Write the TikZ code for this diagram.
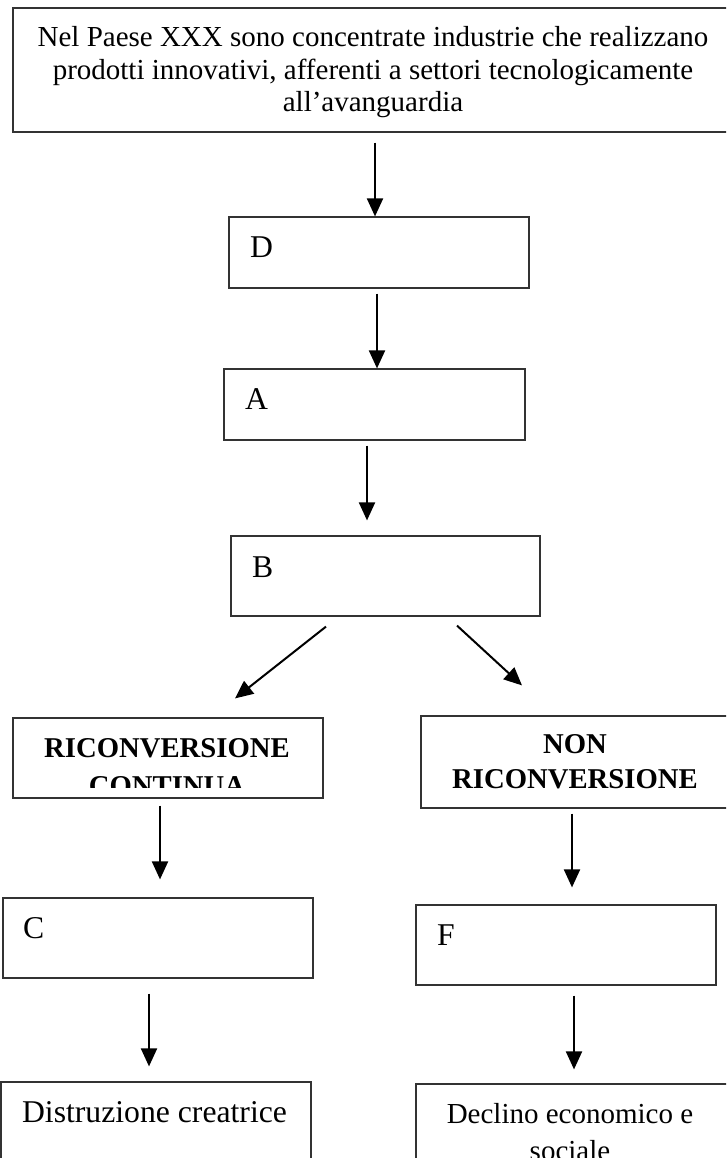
\documentclass[tikz,border=0pt]{standalone}
\usepackage{fontspec}
\setmainfont{Liberation Serif}
\usetikzlibrary{arrows.meta,calc}
\tikzset{
  box/.style={draw=black!80, line width=1.2pt, rectangle, inner sep=0pt},
  arr/.style={line width=2pt, -{Triangle[length=18pt,width=16pt]}},
  lbl/.style={inner sep=0pt, font=\fontsize{31.7}{36}\selectfont},
  body/.style={inner sep=0pt, align=center, font=\fontsize{29}{32.5}\selectfont},
  head/.style={inner sep=0pt, align=center, font=\fontsize{28.7}{35}\selectfont\bfseries},
}
\begin{document}
\begin{tikzpicture}[x=1pt,y=-1pt]
\useasboundingbox (0,0) rectangle (726,1158);
\fill[white] (0,0) rectangle (726,1158);
\clip (0,0) rectangle (726,1158);

% boxes
\node[box, minimum width=720pt, minimum height=124pt] (T) at (373,70) {};
\node[box, minimum width=300pt, minimum height=71pt] (D) at (379,252.5) {};
\node[box, minimum width=301pt, minimum height=71pt] (A) at (374.5,404.5) {};
\node[box, minimum width=309pt, minimum height=80pt] (B) at (385.5,576) {};
\node[box, minimum width=310pt, minimum height=80pt] (RC) at (168,758) {};
\node[box, minimum width=308pt, minimum height=92pt] (NR) at (575,762) {};
\node[box, minimum width=310pt, minimum height=80pt] (C) at (158,938) {};
\node[box, minimum width=300pt, minimum height=80pt] (F) at (566,945) {};
\node[box, minimum width=310pt, minimum height=118pt] (Dis) at (156,1141) {};
\node[box, minimum width=314pt, minimum height=116pt] (Dec) at (573,1142) {};

% texts (a multi-line node's base anchor sits on its last line)
\node[body, anchor=base] (Ttxt) at (373,112)
  {Nel Paese XXX sono concentrate industrie che realizzano\\
   prodotti innovativi, afferenti a settori tecnologicamente\\
   all’avanguardia};
\node[lbl, anchor=base west] (Dl) at (250,258) {D};
\node[lbl, anchor=base west] (Al) at (245,409) {A};
\node[lbl, anchor=base west] (Bl) at (252,577) {B};
\begin{scope}
  \clip (13,718) rectangle (323,787);
  \node[head, font=\fontsize{28.7}{38}\selectfont\bfseries, anchor=base] (RCtxt)
    at (167,795) {RICONVERSIONE\\CONTINUA};
\end{scope}
\node[head, anchor=base] (NRtxt) at (575,788) {NON\\RICONVERSIONE};
\node[lbl, anchor=base west] (Cl) at (23,938) {C};
\node[lbl, anchor=base west] (Fl) at (437,945) {F};
\node[lbl, anchor=base] (Distxt) at (154.5,1122) {Distruzione creatrice};
\node[body, font=\fontsize{29}{37}\selectfont, anchor=base] (Dectxt)
  at (570,1160) {Declino economico e\\sociale};

% connectors
\draw[arr] ($(T.south)+(2,10)$) -- ($(D.north)+(-4,0)$);
\draw[arr] ($(D.south)+(-2,5)$) -- ($(A.north)+(2.5,0)$);
\draw[arr] ($(A.south)+(-7.5,5)$) -- ($(B.north)+(-18.5,-15)$);
\draw[arr] ($(B.south)+(-59.5,10)$) -- ($(RC.north)+(67,-19)$);
\draw[arr] ($(B.south)+(71.5,9)$) -- ($(NR.north)+(-53,-30)$);
\draw[arr] ($(RC.south)+(-8,7)$) -- ($(C.north)+(2,-18)$);
\draw[arr] ($(NR.south)+(-3,5)$) -- ($(F.north)+(6,-17)$);
\draw[arr] ($(C.south)+(-9,15)$) -- ($(Dis.north)+(-7,-15)$);
\draw[arr] ($(F.south)+(8,10)$) -- ($(Dec.north)+(1,-14)$);
\end{tikzpicture}
\end{document}
